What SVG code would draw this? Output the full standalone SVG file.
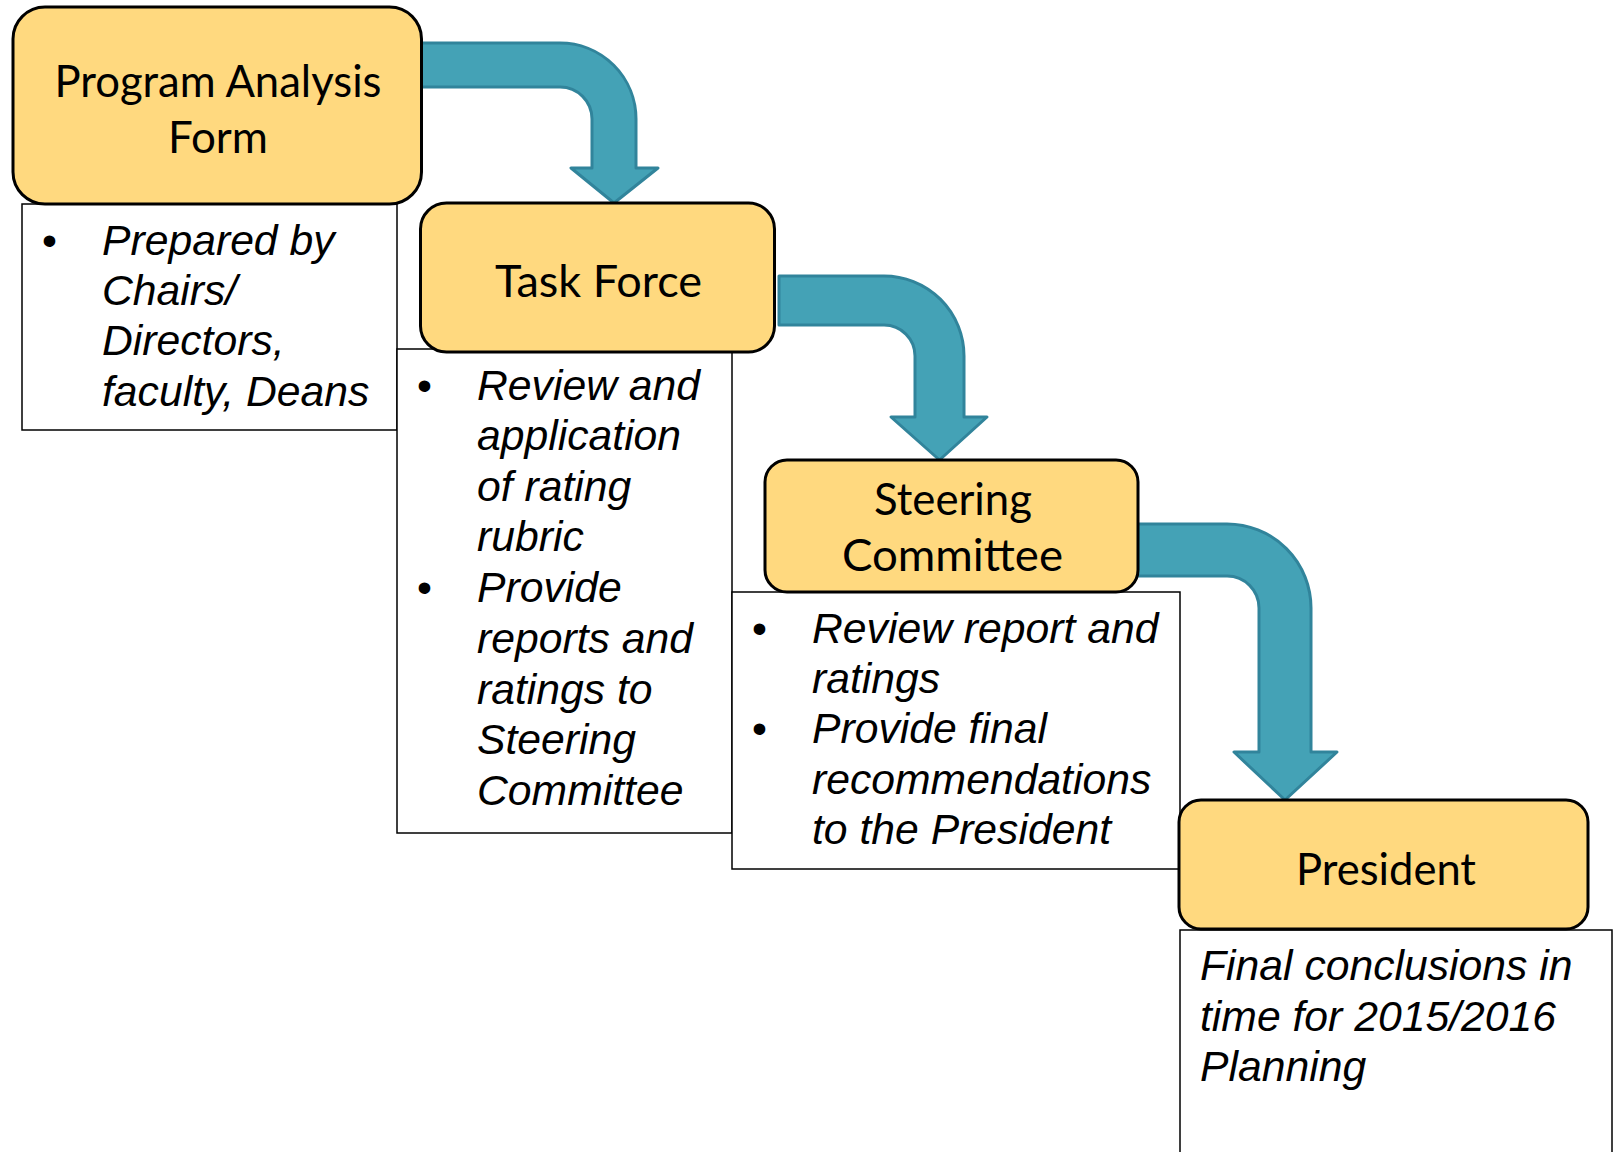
<svg xmlns="http://www.w3.org/2000/svg" width="1616" height="1152" viewBox="0 0 1616 1152">
<style>
.desc{fill:#ffffff;stroke:#000000;stroke-width:1.5}
.title{fill:#FFD97F;stroke:#000000;stroke-width:3}
.arrow{fill:#44A2B6;stroke:#31849B;stroke-width:3;stroke-linejoin:round}
.tt{font-family:Lato,"Open Sans","DejaVu Sans",sans-serif;font-size:45px;fill:#000;text-anchor:middle}
.it{font-family:"Liberation Sans",Arial,sans-serif;font-size:42.7px;font-style:italic;fill:#000}
.bu{font-family:"Liberation Sans",Arial,sans-serif;font-size:42.7px;fill:#000}
</style>
<rect width="1616" height="1152" fill="#ffffff"/>
<g id="desc-program-analysis">
<rect class="desc" x="22" y="204" width="375" height="226"/>
<text class="bu" x="42" y="255">•</text>
<text class="it" x="102" y="255">Prepared by</text>
<text class="it" x="102" y="305">Chairs/</text>
<text class="it" x="102" y="355">Directors,</text>
<text class="it" x="102" y="406">faculty, Deans</text>
</g>
<g id="desc-task-force">
<rect class="desc" x="397" y="349" width="335" height="484"/>
<text class="bu" x="417" y="400">•</text>
<text class="it" x="477" y="400">Review and</text>
<text class="it" x="477" y="450">application</text>
<text class="it" x="477" y="501">of rating</text>
<text class="it" x="477" y="551">rubric</text>
<text class="bu" x="417" y="602">•</text>
<text class="it" x="477" y="602">Provide</text>
<text class="it" x="477" y="653">reports and</text>
<text class="it" x="477" y="704">ratings to</text>
<text class="it" x="477" y="754">Steering</text>
<text class="it" x="477" y="805">Committee</text>
</g>
<g id="desc-steering-committee">
<rect class="desc" x="732" y="592" width="448" height="277"/>
<text class="bu" x="752" y="643">•</text>
<text class="it" x="812" y="643">Review report and</text>
<text class="it" x="812" y="693">ratings</text>
<text class="bu" x="752" y="743">•</text>
<text class="it" x="812" y="743">Provide final</text>
<text class="it" x="812" y="794">recommendations</text>
<text class="it" x="812" y="844">to the President</text>
</g>
<g id="desc-president">
<rect class="desc" x="1180" y="930" width="432" height="240"/>
<text class="it" x="1200" y="980">Final conclusions in</text>
<text class="it" x="1200" y="1031">time for 2015/2016</text>
<text class="it" x="1200" y="1081">Planning</text>
</g>
<g id="connectors">
<path class="arrow" d="M 418 43 L 560 43 A 76 76 0 0 1 636 119 L 636 168 L 658 168 L 614 203 L 571 168 L 592 168 L 592 119 A 32 32 0 0 0 560 87 L 418 87 Z"/>
<path class="arrow" d="M 779 276 L 884 276 A 80 80 0 0 1 964 356 L 964 417 L 987 417 L 939.5 460 L 891 417 L 915 417 L 915 356 A 31 31 0 0 0 884 325 L 779 325 Z"/>
<path class="arrow" d="M 1134 524 L 1227 524 A 84 84 0 0 1 1311 608 L 1311 752 L 1337 752 L 1285 800 L 1234 752 L 1259 752 L 1259 608 A 32 32 0 0 0 1227 576 L 1134 576 Z"/>
</g>
<g id="node-program-analysis-form">
<rect class="title" x="13" y="7" width="408.5" height="197" rx="32" ry="32"/>
<text class="tt" x="218" y="97" textLength="327" lengthAdjust="spacingAndGlyphs">Program Analysis</text>
<text class="tt" x="218" y="153" textLength="100" lengthAdjust="spacingAndGlyphs">Form</text>
</g>
<g id="node-task-force">
<rect class="title" x="420.5" y="203" width="354" height="149" rx="26" ry="26"/>
<text class="tt" x="598.5" y="297" textLength="207" lengthAdjust="spacingAndGlyphs">Task Force</text>
</g>
<g id="node-steering-committee">
<rect class="title" x="765" y="460" width="373" height="132" rx="22" ry="22"/>
<text class="tt" x="953" y="515" textLength="158" lengthAdjust="spacingAndGlyphs">Steering</text>
<text class="tt" x="952.5" y="571" textLength="221" lengthAdjust="spacingAndGlyphs">Committee</text>
</g>
<g id="node-president">
<rect class="title" x="1179" y="800" width="409" height="129" rx="22" ry="22"/>
<text class="tt" x="1386" y="885" textLength="180" lengthAdjust="spacingAndGlyphs">President</text>
</g>
</svg>
